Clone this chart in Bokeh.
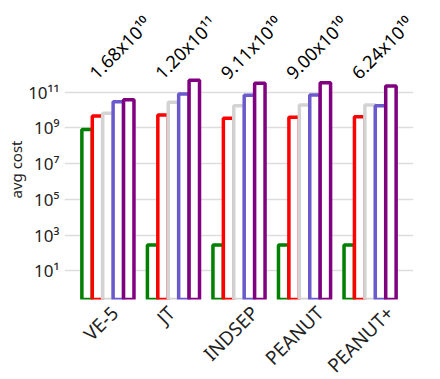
import math
from bokeh.plotting import figure
from bokeh.models import (ColumnDataSource, FixedTicker, CustomJSTickFormatter,
                          Range1d, Title, LinearAxis)
from bokeh.transform import dodge
from bokeh.embed import file_html
from bokeh.resources import INLINE

# ---- data ----
cats = ["VE-5", "JT", "INDSEP", "PEANUT", "PEANUT+"]
s_green = [8.0e8, 280, 280, 280, 280]
s_red = [4.6e9, 5.2e9, 3.4e9, 3.9e9, 4.2e9]
s_gray = [6.5e9, 2.7e10, 1.7e10, 1.9e10, 1.9e10]
s_blue = [2.9e10, 7.8e10, 6.6e10, 6.8e10, 1.7e10]
s_purple = [3.7e10, 4.6e11, 3.1e11, 3.3e11, 2.2e11]
annot = ["1.68x10\u00b9\u2070", "1.20x10\u00b9\u00b9", "9.11x10\u00b9\u2070",
         "9.00x10\u00b9\u2070", "6.24x10\u00b9\u2070"]
y_ticks = [1e1, 1e3, 1e5, 1e7, 1e9, 1e11]

FONT = "Noto Sans"
PAD = 0.065
FRAME_W = 349

n = len(cats)
idx = [i + 0.5 for i in range(n)]   # category slot centres
src = ColumnDataSource(dict(idx=idx, cat=cats, green=s_green, red=s_red, gray=s_gray,
                            blue=s_blue, purple=s_purple))

half = n * PAD / 2
p = figure(x_range=Range1d(-half, n + half),
           y_axis_type="log", y_range=Range1d(10 ** -0.606, 10 ** 11.926),
           frame_width=FRAME_W, frame_height=224, output_backend="svg", toolbar_location=None,
           min_border_left=64, min_border_right=19, min_border_top=72, min_border_bottom=70)

w = 0.159
series = [("green", "green"), ("red", "red"), ("gray", "lightgray"),
          ("blue", "slateblue"), ("purple", "purple")]
for i, (col, color) in enumerate(series):
    p.vbar(x=dodge("idx", (i - 2) * w), top=col, bottom=1e-3, width=w,
           source=src, fill_color="white", line_color=color, line_width=3.5)

unit_px = FRAME_W / (n + 2 * half)

# bottom axis: rotated category labels, centred under each group (matplotlib style)
xax = p.below[0]
XFS = 19
lab_ticks = [x + (0.5 * len(c) * 0.66 * XFS * 0.707 - 11) / unit_px
             for x, c in zip(idx, cats)]
xax.ticker = FixedTicker(ticks=lab_ticks, minor_ticks=[])
xax.formatter = CustomJSTickFormatter(args=dict(names=cats), code="return names[index];")

# top axis: rotated value annotations above each group
ann_ticks = [x - 15.5 / unit_px for x in idx]
top_ax = LinearAxis(ticker=FixedTicker(ticks=ann_ticks, minor_ticks=[]),
                    formatter=CustomJSTickFormatter(args=dict(names=annot),
                                                    code="return names[index];"))
p.add_layout(top_ax, "above")

yax = p.left[0]

p.outline_line_color = None
p.xgrid.grid_line_color = None
p.ygrid.grid_line_color = "#dddddd"
p.ygrid.grid_line_width = 1.5
yax.ticker = FixedTicker(ticks=y_ticks, minor_ticks=[])
yax.formatter = CustomJSTickFormatter(code="""
const sup = {'0':'\u2070','1':'\u00b9','2':'\u00b2','3':'\u00b3','4':'\u2074',
             '5':'\u2075','6':'\u2076','7':'\u2077','8':'\u2078','9':'\u2079','-':'\u207b'};
const e = Math.round(Math.log10(tick));
return '10' + String(e).split('').map(c => sup[c]).join('');
""")
for ax in (xax, yax, top_ax):
    ax.axis_line_color = None
    ax.major_tick_line_color = None
    ax.minor_tick_line_color = None
    ax.major_tick_out = 0
    ax.major_tick_in = 0
    ax.major_label_text_font = FONT
    ax.major_label_text_color = "#222222"
yax.major_label_text_font_size = "17px"
yax.major_label_standoff = 5
xax.major_label_text_font_size = f"{XFS}px"
xax.major_label_orientation = math.pi / 4
xax.major_label_standoff = 10
top_ax.major_label_text_font_size = "18px"
top_ax.major_label_text_color = "black"
top_ax.major_label_orientation = math.pi / 4
top_ax.major_label_standoff = 0

ylab = Title(text="avg cost", align="left", offset=101, standoff=0,
             text_font=FONT, text_font_size="15px", text_font_style="normal",
             text_color="#222222")
p.add_layout(ylab, "left")

open("out.html", "w").write(file_html(p, INLINE))
